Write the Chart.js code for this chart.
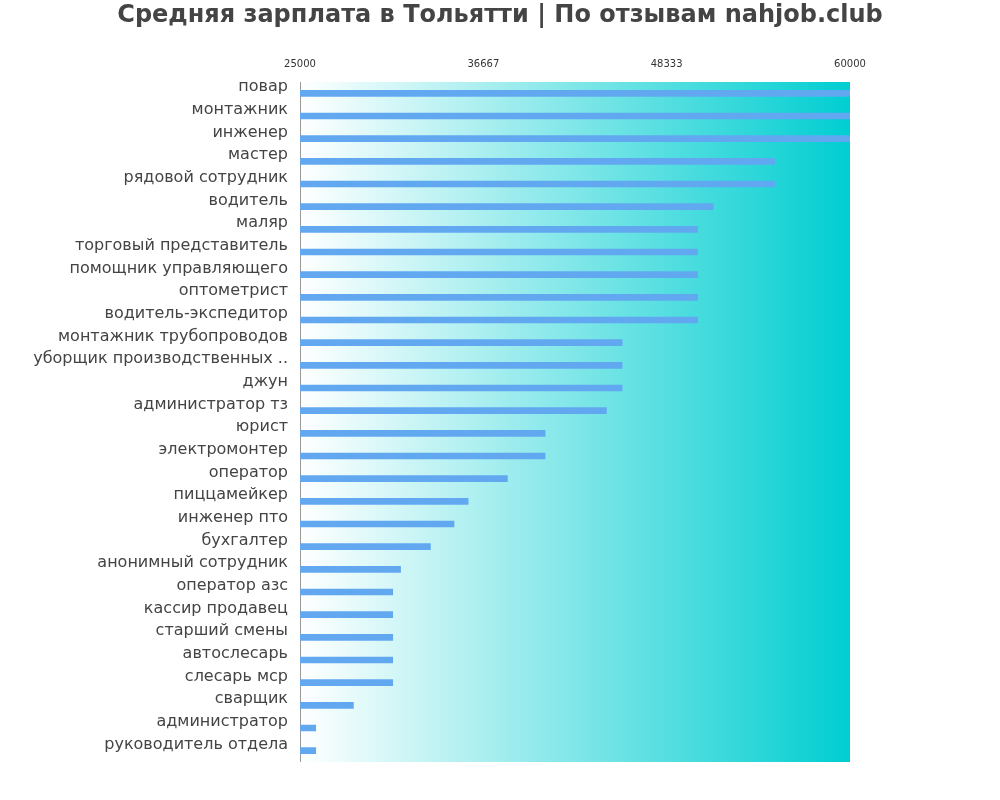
<!DOCTYPE html><html><head><meta charset="utf-8">
<script src="https://cdn.jsdelivr.net/npm/chart.js@4"></script>
<style>body{margin:0;background:#fff}#w{width:1000px;height:800px}</style></head><body>
<div id="w"><canvas id="c"></canvas></div>
<script>
const categories=["повар","монтажник","инженер","мастер","рядовой сотрудник","водитель","маляр","торговый представитель","помощник управляющего","оптометрист","водитель-экспедитор","монтажник трубопроводов","уборщик производственных ..","джун","администратор тз","юрист","электромонтер","оператор","пиццамейкер","инженер пто","бухгалтер","анонимный сотрудник","оператор азс","кассир продавец","старший смены","автослесарь","слесарь мср","сварщик","администратор","руководитель отдела"];
const salaries=[60000,60000,60000,55200,55200,51300,50300,50300,50300,50300,50300,45500,45500,45500,44500,40600,40600,38200,35700,34800,33300,31400,30900,30900,30900,30900,30900,28400,26000,26000];
const tickValues=[25000,36667,48333,60000];
const titleText='Средняя зарплата в Тольятти | По отзывам nahjob.club';
const bg={id:'bg',beforeDatasetsDraw(ch){const a=ch.chartArea,x=ch.ctx;const g=x.createLinearGradient(a.left,0,a.right,0);g.addColorStop(0,'#ffffff');g.addColorStop(1,'#00ced1');x.save();x.fillStyle=g;x.fillRect(a.left,a.top,a.right-a.left,a.bottom-a.top);x.strokeStyle='#999';x.lineWidth=1;x.beginPath();x.moveTo(a.left+0.5,a.top);x.lineTo(a.left+0.5,a.bottom);x.stroke();x.restore();},
afterDraw(ch){const x=ch.ctx;x.save();x.font='bold 24px "DejaVu Sans"';x.fillStyle='#444';x.textAlign='center';x.textBaseline='middle';x.fillText(titleText,500,16);x.restore();}};
new Chart(document.getElementById('c'),{type:'bar',data:{labels:categories,datasets:[{data:salaries,backgroundColor:'#62a8f0',barThickness:6}]},
plugins:[bg],
options:{indexAxis:'y',responsive:true,maintainAspectRatio:false,animation:false,
layout:{padding:{right:150,bottom:38,top:54}},
plugins:{legend:{display:false},tooltip:{enabled:false},title:{display:false}},
scales:{x:{position:'top',min:25000,max:60000,afterBuildTicks(s){s.ticks=tickValues.map(v=>({value:v}));},grid:{display:false},border:{display:false},ticks:{color:'#333',font:{size:10,family:'DejaVu Sans'},padding:4,maxRotation:0,callback:v=>String(v)}},
y:{afterFit(s){s.width=300;},grid:{display:false,drawTicks:false},border:{display:false},ticks:{color:'#444',font:{size:16,family:'DejaVu Sans'},labelOffset:-6,padding:12}}}}});
</script></body></html>
